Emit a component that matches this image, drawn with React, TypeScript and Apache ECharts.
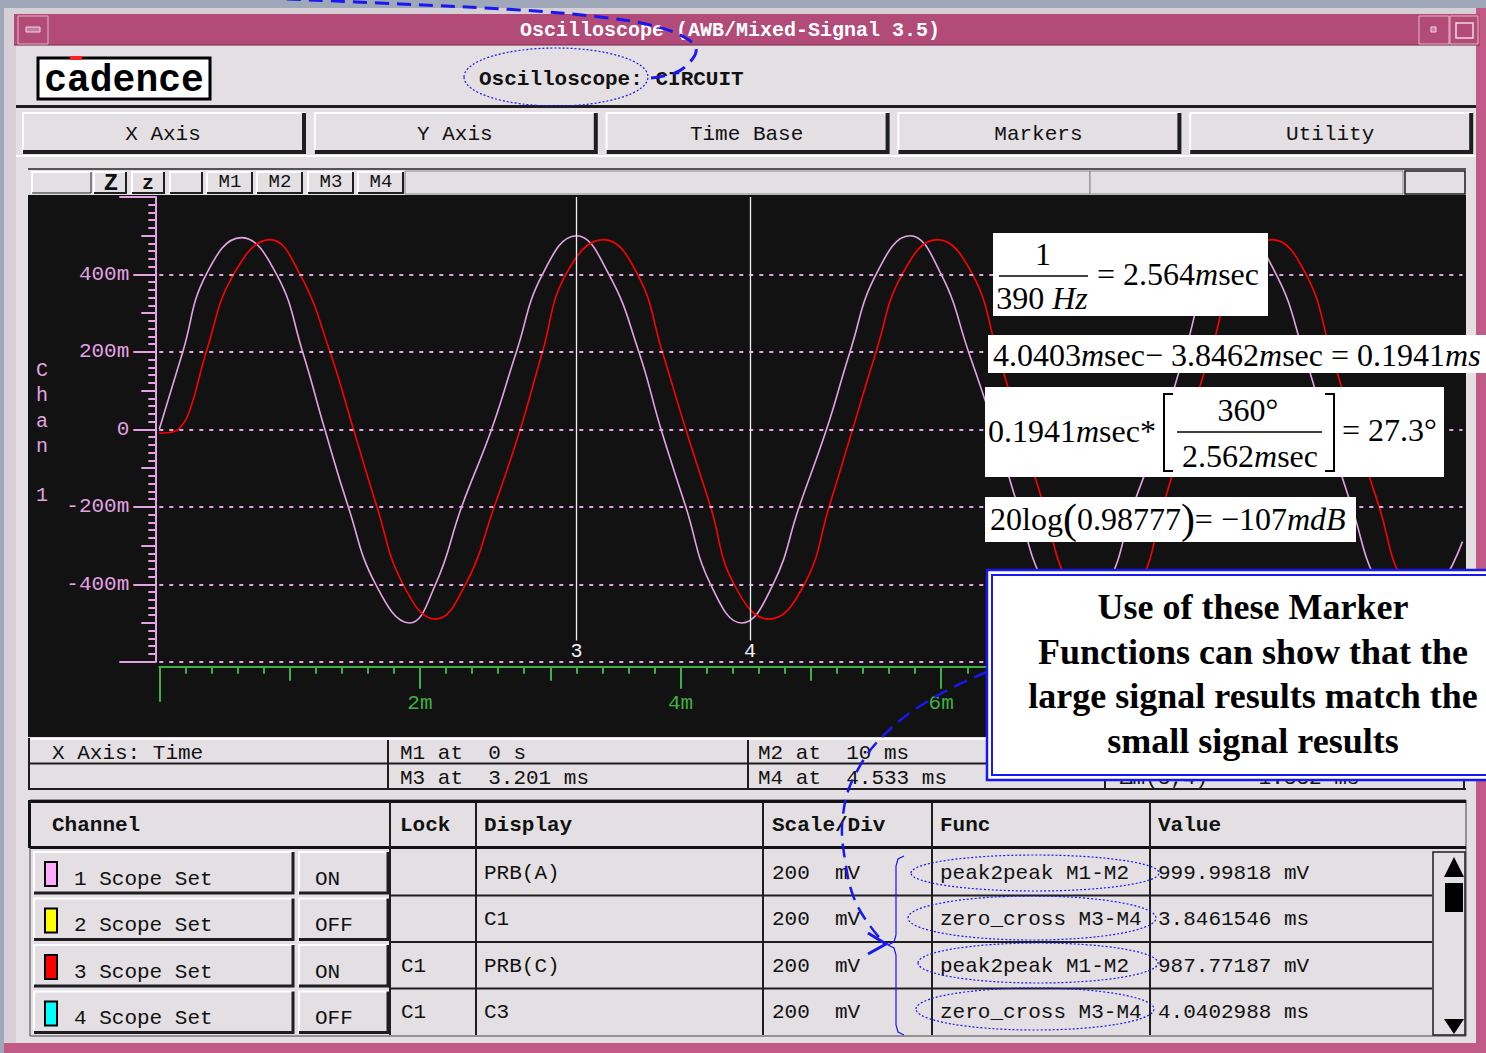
import React, { useEffect, useRef } from 'react';
import * as echarts from 'echarts';

// ---------------- data ----------------
// Channel 1 (pink, PRB(A)) : time in ms, value in mV
const ch1Time = [0, 0.18, 0.36, 0.63, 0.90, 1.10, 1.27, 1.45, 1.66, 1.92, 2.12, 2.32, 2.55, 2.74, 2.94, 3.20, 3.45, 3.68, 3.85, 4.04, 4.23, 4.47, 4.71, 4.91, 5.12, 5.30, 5.50, 5.76, 6.00, 6.21, 6.41, 6.59, 6.79, 7.04, 7.28, 7.47, 7.69, 7.87, 8.06, 8.32, 8.57, 8.78, 8.96, 9.15, 9.35, 9.60, 9.84, 10.0];
const ch1Mv = [0, 200, 400, 495, 400, 200, 0, -200, -400, -500, -400, -200, 0, 200, 400, 500, 400, 200, 0, -200, -400, -500, -400, -200, 0, 200, 400, 500, 400, 200, 0, -200, -400, -500, -400, -200, 0, 200, 400, 500, 400, 200, 0, -200, -400, -500, -400, -290];
// Channel 3 (red, PRB(C))
const ch3Time = [0, 0.08, 0.16, 0.24, 0.36, 0.57, 0.85, 1.08, 1.31, 1.49, 1.67, 1.87, 2.12, 2.35, 2.57, 2.77, 2.94, 3.12, 3.41, 3.67, 3.86, 4.04, 4.23, 4.41, 4.68, 4.95, 5.14, 5.32, 5.50, 5.70, 5.97, 6.24, 6.43, 6.61, 6.79, 6.98, 7.25, 7.52, 7.70, 7.88, 8.07, 8.26, 8.54, 8.80, 8.99, 9.17, 9.36, 9.55, 9.81, 10.0];
const ch3Mv = [-10, -8, 5, 55, 200, 400, 490, 400, 200, 0, -200, -400, -490, -400, -200, 0, 200, 400, 490, 400, 200, 0, -200, -400, -490, -400, -200, 0, 200, 400, 490, 400, 200, 0, -200, -400, -490, -400, -200, 0, 200, 400, 490, 400, 200, 0, -200, -400, -490, -440];

const markerTimes = [3.201, 4.533];
const markerNames = ['3', '4'];
const gridLevels = [-600, -400, -200, 0, 200, 400];
const visibleTimeLabels = [2, 4, 6];

const tabLabels = ['X Axis', 'Y Axis', 'Time Base', 'Markers', 'Utility'];
const markerButtons = ['M1', 'M2', 'M3', 'M4'];
const infoRow1 = ['X Axis: Time', 'M1 at  0 s', 'M2 at  10 ms'];
const infoRow2 = ['', 'M3 at  3.201 ms', 'M4 at  4.533 ms', '\u0394m(3,4) =  1.332 ms'];
const tableHeaders = ['Channel', 'Lock', 'Display', 'Scale/Div', 'Func', 'Value'];
const channelNames = ['1 Scope Set', '2 Scope Set', '3 Scope Set', '4 Scope Set'];
const channelColors = ['#ffaaff', '#ffff00', '#ff0000', '#00ffff'];
const channelStates = ['ON', 'OFF', 'ON', 'OFF'];
const lockCol = ['', '', 'C1', 'C1'];
const displayCol = ['PRB(A)', 'C1', 'PRB(C)', 'C3'];
const scaleCol = ['200  mV', '200  mV', '200  mV', '200  mV'];
const funcCol = ['peak2peak M1-M2', 'zero_cross M3-M4', 'peak2peak M1-M2', 'zero_cross M3-M4'];
const valueCol = ['999.99818 mV', '3.8461546 ms', '987.77187 mV', '4.0402988 ms'];
const calloutLines = ['Use of these Marker', 'Functions can show that the', 'large signal results match the', 'small signal results'];

// ---------------- styles ----------------
const MONO = '"Liberation Mono", "DejaVu Sans Mono", monospace';
const SERIF = '"Liberation Serif", "DejaVu Serif", serif';
const PINK = '#e4a2e4';
const GREEN = '#3fb043';
const BLUE = '#1818f0';
const GREY = '#e3dfe3';
const DARK = '#1e1e1e';

function rect(x: number, y: number, w: number, h: number, fill: string, z: number, stroke?: string, lw?: number) {
  return { type: 'rect', z, silent: true, shape: { x, y, width: w, height: h }, style: { fill, stroke: stroke || null, lineWidth: lw || 0 } };
}
function line(x1: number, y1: number, x2: number, y2: number, stroke: string, lw: number, z: number, dash?: number[]) {
  return { type: 'line', z, silent: true, shape: { x1, y1, x2, y2 }, style: { stroke, lineWidth: lw, lineDash: dash || null } };
}
function poly(points: number[][], stroke: string, lw: number, z: number, extra: any = {}) {
  return { type: 'polyline', z, silent: true, shape: { points, smooth: extra.smooth || 0 }, style: { stroke, lineWidth: lw, fill: null, lineDash: extra.dash || null } };
}
function txt(text: string, x: number, y: number, o: any = {}) {
  const align = o.align || 'left';
  const va = o.va || 'middle';
  const style: any = {
    text, fill: o.fill || '#111', font: o.font || `21px ${MONO}`,
    align, verticalAlign: va, textAlign: align, textVerticalAlign: va,
  };
  if (o.rich) style.rich = o.rich;
  const el: any = { type: 'text', x, y, z: o.z ?? -6, silent: true, style };
  if (o.scaleX) el.scaleX = o.scaleX;
  return el;
}
function bevel(x: number, y: number, w: number, h: number, z: number, thick = 3) {
  return [
    rect(x, y, w, h, GREY, z),
    poly([[x + 1, y + h], [x + 1, y + 1], [x + w, y + 1]], '#ffffff', 2, z + 1),
    poly([[x + 1, y + h - 1], [x + w - 1, y + h - 1], [x + w - 1, y + 1]], DARK, thick, z + 1),
  ];
}

function buildGraphics() {
  const g: any[] = [];
  // window background & frame
  g.push(rect(0, 0, 1486, 1053, '#9ea8b8', -10));
  g.push(rect(4, 8, 1482, 1045, '#d6d0d6', -10));
  g.push(rect(1476, 8, 10, 1045, '#c25a88', -10));
  g.push(rect(4, 1043, 1482, 10, '#c25a88', -10));
  g.push(rect(14, 14, 1466, 31, '#b24b78', -10));
  g.push(line(14, 45, 1480, 45, '#7a2a50', 1, -9));
  g.push(rect(18, 16, 30, 28, 'rgba(0,0,0,0)', -9, '#e4b8cc', 1));
  g.push(rect(26, 27, 14, 5, '#c77ba0', -9, '#f2d8e4', 1));
  g.push(rect(1419, 16, 30, 28, 'rgba(0,0,0,0)', -9, '#e4b8cc', 1));
  g.push(rect(1431, 27, 5, 5, '#c77ba0', -9, '#f2d8e4', 1));
  g.push(rect(1450, 16, 28, 28, 'rgba(0,0,0,0)', -9, '#e4b8cc', 1));
  g.push(rect(1456, 23, 17, 15, 'rgba(0,0,0,0)', -9, '#f2d8e4', 1.5));
  g.push(txt('Oscilloscope (AWB/Mixed-Signal 3.5)', 730, 30, { fill: '#ffffff', align: 'center', font: `bold 20px ${MONO}` }));

  // client area
  g.push(rect(16, 46, 1460, 997, GREY, -10));
  // cadence logo
  g.push(rect(38, 58, 172, 41, '#ffffff', -9, '#000000', 3));
  g.push(rect(70, 56, 12, 4, '#ff2020', -8));
  g.push(txt('cadence', 124, 80, { align: 'center', fill: '#000', font: `bold 38px ${MONO}` }));
  g.push(txt('Oscilloscope: CIRCUIT', 479, 79, { font: `bold 21px ${MONO}`, fill: '#111' }));
  g.push(rect(16, 105, 1460, 3, DARK, -9));

  // tabs
  tabLabels.forEach((lab, i) => {
    const x = 22 + i * 291.8;
    g.push(...bevel(x, 112, 283, 41, -9, 4));
    g.push(txt(lab, x + 141, 134, { align: 'center' }));
  });
  g.push(rect(16, 155, 1460, 2, '#ffffff', -9));

  // plot panel + toolbar
  g.push(rect(28, 168, 1438, 2, '#555555', -9));
  g.push(rect(30, 170, 1435, 25, GREY, -9));
  g.push(...bevel(31, 171, 61, 23, -9, 1));
  g.push(...bevel(93, 171, 34, 23, -9, 2));
  g.push(txt('Z', 111, 183, { align: 'center', font: `bold 24px ${MONO}` }));
  g.push(...bevel(131, 171, 34, 23, -9, 2));
  g.push(txt('z', 148, 183, { align: 'center', font: `bold 20px ${MONO}` }));
  g.push(...bevel(169, 171, 34, 23, -9, 2));
  const mbX = [206, 256, 307, 357];
  markerButtons.forEach((m, i) => {
    g.push(...bevel(mbX[i], 171, 47, 23, -9, 2));
    g.push(txt(m, mbX[i] + 24, 182, { align: 'center', font: `19px ${MONO}` }));
  });
  g.push(rect(405, 171, 685, 23, GREY, -9, '#888', 1));
  g.push(rect(1090, 171, 313, 23, GREY, -9, '#888', 1));
  g.push(rect(1405, 171, 60, 23, GREY, -9, DARK, 1.5));

  // black scope area
  g.push(rect(28, 195, 1438, 542, '#121212', -9));
  // vertical "Chan 1"
  const chanLetters = ['C', 'h', 'a', 'n'];
  chanLetters.forEach((c, i) => g.push(txt(c, 42, 370 + i * 25.5, { align: 'center', fill: PINK, font: `20px ${MONO}` })));
  g.push(txt('1', 42, 495, { align: 'center', fill: PINK, font: `20px ${MONO}` }));

  // info rows
  g.push(rect(28, 737, 1438, 53, GREY, -9));
  g.push(rect(28, 738, 1438, 2, '#ffffff', -8));
  g.push(line(28, 763.5, 1466, 763.5, DARK, 2, -8));
  g.push(line(28, 789, 1466, 789, DARK, 2, -8));
  g.push(line(29, 738, 29, 790, DARK, 2, -8));
  g.push(line(388, 740, 388, 790, DARK, 2, -8));
  g.push(line(748, 740, 748, 790, DARK, 2, -8));
  g.push(line(1105, 764, 1105, 790, DARK, 2, -8));
  g.push(line(1464, 764, 1464, 790, DARK, 2, -8));
  const infoX = [52, 400, 758, 1120];
  infoRow1.forEach((t, i) => g.push(txt(t, infoX[i], 753)));
  infoRow2.forEach((t, i) => { if (t) g.push(txt(t, infoX[i], 778)); });

  // table
  g.push(rect(30, 800, 1436, 236, GREY, -9, '#444', 1));
  g.push(rect(30, 800, 1436, 3, '#111', -8));
  g.push(rect(30, 846, 1436, 3, '#111', -8));
  g.push(rect(28, 800, 3, 48, '#111', -8));
  const colX = [390, 476, 763, 932, 1150];
  colX.forEach((x) => g.push(line(x, 802, x, 1035, DARK, 2, -8)));
  const headX = [52, 400, 484, 772, 940, 1158];
  tableHeaders.forEach((h, i) => g.push(txt(h, headX[i], 825, { font: `bold 21px ${MONO}` })));
  channelNames.forEach((name, i) => {
    const top = 851 + i * 46.5;
    g.push(...bevel(33, top, 261, 43, -9, 3));
    g.push(...bevel(298, top, 91, 43, -9, 3));
    g.push(rect(45, top + 11, 12, 24, channelColors[i], -7, '#000', 2));
    g.push(txt(name, 74, top + 28));
    g.push(txt(channelStates[i], 315, top + 28));
    if (lockCol[i]) g.push(txt(lockCol[i], 401, top + 22));
    g.push(txt(displayCol[i], 484, top + 22));
    g.push(txt(scaleCol[i], 772, top + 22));
    g.push(txt(funcCol[i], 940, top + 22));
    g.push(txt(valueCol[i], 1158, top + 22));
    if (i > 0) g.push(line(390, top - 2, 1432, top - 2, DARK, 2, -8));
  });
  // scrollbar
  g.push(rect(1433, 852, 32, 183, GREY, -8, DARK, 1.5));
  g.push({ type: 'polygon', z: -7, silent: true, shape: { points: [[1454, 857], [1444, 877], [1464, 877]] }, style: { fill: '#000' } });
  g.push(rect(1445, 883, 18, 29, '#000', -7));
  g.push({ type: 'polygon', z: -7, silent: true, shape: { points: [[1444, 1019], [1464, 1019], [1454, 1034]] }, style: { fill: '#000' } });

  // ---------- overlays: math boxes ----------
  const fs = 32;
  const rich = {
    n: { fontFamily: SERIF, fontSize: fs, fill: '#000' },
    i: { fontFamily: SERIF, fontSize: fs, fontStyle: 'italic', fill: '#000' },
    p: { fontFamily: SERIF, fontSize: 42, fill: '#000' },
  };
  const OZ = 50;
  // box 1
  g.push(rect(993, 233, 275, 83, '#ffffff', OZ));
  g.push(txt('{n|1}', 1043, 254, { align: 'center', rich, z: OZ + 1 }));
  g.push(line(999, 276, 1088, 276, '#000', 1.5, OZ + 1));
  g.push(txt('{n|390 }{i|Hz}', 1042, 298, { align: 'center', rich, z: OZ + 1 }));
  g.push(txt('{n|= 2.564}{i|m}{n|sec}', 1097, 274, { rich, z: OZ + 1 }));
  // box 2
  g.push(rect(988, 335, 498, 38, '#ffffff', OZ));
  g.push(txt('{n|4.0403}{i|m}{n|sec\u2212 3.8462}{i|m}{n|sec = 0.1941}{i|ms}', 993, 355, { rich, z: OZ + 1 }));
  // box 3
  g.push(rect(985, 387, 459, 90, '#ffffff', OZ));
  g.push(txt('{n|0.1941}{i|m}{n|sec*}', 988, 431, { rich, z: OZ + 1 }));
  g.push(poly([[1173, 394], [1164, 394], [1164, 471], [1173, 471]], '#000', 2, OZ + 1));
  g.push(txt('{n|360\u00b0}', 1248, 410, { align: 'center', rich, z: OZ + 1 }));
  g.push(line(1177, 432, 1322, 432, '#000', 1.5, OZ + 1));
  g.push(txt('{n|2.562}{i|m}{n|sec}', 1250, 456, { align: 'center', rich, z: OZ + 1 }));
  g.push(poly([[1325, 394], [1334, 394], [1334, 471], [1325, 471]], '#000', 2, OZ + 1));
  g.push(txt('{n|= 27.3\u00b0}', 1342, 430, { rich, z: OZ + 1 }));
  // box 4
  g.push(rect(985, 497, 371, 45, '#ffffff', OZ));
  g.push(txt('{n|20log}{p|(}{n|0.98777}{p|)}{n|= \u2212107}{i|mdB}', 990, 519, { rich, z: OZ + 1 }));

  // callout box
  g.push(rect(987, 570, 510, 210, '#ffffff', OZ, BLUE, 2.5));
  g.push(rect(992, 575, 500, 200, 'rgba(0,0,0,0)', OZ + 1, BLUE, 2));
  calloutLines.forEach((t, i) => g.push(txt(t, 1253, 607 + i * 44.7, { align: 'center', fill: '#000', font: `bold 36px ${SERIF}`, z: OZ + 2 })));

  // blue annotations
  g.push({ type: 'ellipse', z: OZ, silent: true, shape: { cx: 556, cy: 77, rx: 92, ry: 29 }, style: { fill: null, stroke: BLUE, lineWidth: 1.2, lineDash: [2, 2] } });
  const ellipses = [[1035, 873, 124, 18], [1032, 918, 124, 22], [1038, 963, 120, 20], [1035, 1009, 119, 21]];
  ellipses.forEach(([cx, cy, rx, ry]) => g.push({ type: 'ellipse', z: OZ, silent: true, shape: { cx, cy, rx, ry }, style: { fill: null, stroke: BLUE, lineWidth: 1.2, lineDash: [2, 2] } }));
  g.push(poly([[904, 856], [898, 859], [896, 866], [896, 935], [894, 942], [888, 945], [894, 948], [896, 955], [896, 1025], [898, 1032], [904, 1035]], BLUE, 1.2, OZ));
  g.push(poly([[265, -2], [400, 4], [520, 10], [600, 17], [650, 25], [684, 37], [696, 49], [690, 62], [675, 73], [650, 78]], BLUE, 3, OZ, { smooth: 0.4, dash: [14, 8] }));
  g.push(poly([[987, 672], [935, 697], [887, 732], [856, 773], [843, 815], [845, 860], [857, 905], [883, 942]], BLUE, 2.5, OZ, { smooth: 0.4, dash: [14, 8] }));
  g.push(poly([[868, 933], [886, 944], [868, 954]], BLUE, 3, OZ));
  return g;
}

function buildOption() {
  const yLabel = (v: number) => (v === 0 ? '0' : Math.abs(v) < 600 ? `${v}m` : '');
  const xLabel = (v: number) => (visibleTimeLabels.indexOf(v) >= 0 ? `${v}m` : '');
  const yAx = (interval: number, len: number, labels: boolean, showLine: boolean) => ({
    type: 'value', min: -600, max: 600, interval, position: 'left', offset: 4,
    axisLine: { show: showLine, onZero: false, lineStyle: { color: PINK, width: 2 } },
    axisTick: { show: true, length: len, lineStyle: { color: PINK, width: 2 } },
    axisLabel: labels ? { show: true, formatter: yLabel, color: PINK, fontFamily: MONO, fontSize: 21, margin: 26 } : { show: false },
    splitLine: { show: false },
  });
  const xAx = (interval: number, len: number, labels: boolean, showLine: boolean) => ({
    type: 'value', min: 0, max: 10, interval, position: 'bottom', offset: 5,
    axisLine: { show: showLine, onZero: false, lineStyle: { color: GREEN, width: 2 } },
    axisTick: { show: true, length: len, lineStyle: { color: GREEN, width: 2 } },
    axisLabel: labels ? { show: true, formatter: xLabel, color: GREEN, fontFamily: MONO, fontSize: 21, margin: 26 } : { show: false },
    splitLine: { show: false },
  });
  return {
    animation: false,
    backgroundColor: 'transparent',
    grid: { left: 159.3, right: 23.5, top: 197, bottom: 391.3, containLabel: false },
    xAxis: [xAx(2, 22, true, true), xAx(1, 14, false, false), xAx(0.2, 7, false, false), xAx(10, 35, false, false)],
    yAxis: [yAx(200, 22, true, true), yAx(100, 14, false, false), yAx(20, 7, false, false), yAx(1200, 36, false, false)],
    series: [
      {
        name: 'PRB(A)', type: 'line', xAxisIndex: 0, yAxisIndex: 0,
        data: ch1Time.map((t, i) => [t, ch1Mv[i]]),
        smooth: 0.45, symbol: 'none', showSymbol: false, z: 3,
        lineStyle: { color: PINK, width: 1.6 },
        markLine: {
          silent: true, symbol: ['none', 'none'], label: { show: false },
          lineStyle: { color: PINK, type: [4, 6], width: 2 },
          data: gridLevels.map((v) => ({ yAxis: v })),
        },
      },
      {
        name: 'PRB(C)', type: 'line', xAxisIndex: 0, yAxisIndex: 0,
        data: ch3Time.map((t, i) => [t, ch3Mv[i]]),
        smooth: 0.45, symbol: 'none', showSymbol: false, z: 4,
        lineStyle: { color: '#ff0000', width: 1.6 },
        markLine: {
          silent: true, symbol: ['none', 'none'],
          lineStyle: { color: '#f0f0f0', type: 'solid', width: 1.3 },
          label: { show: true, position: 'end', distance: 1, color: '#f0f0f0', fontFamily: MONO, fontSize: 20, formatter: (p: any) => p.name },
          data: markerTimes.map((t, i) => [{ coord: [t, 600], name: markerNames[i] }, { coord: [t, -545] }]),
        },
      },
    ],
    graphic: buildGraphics(),
  };
}

export default function App() {
  const ref = useRef<HTMLDivElement>(null);
  useEffect(() => {
    document.body.style.margin = '0';
    const chart = echarts.init(ref.current as HTMLDivElement, null, { renderer: 'svg', width: 1486, height: 1053 });
    chart.setOption(buildOption() as any);
    return () => chart.dispose();
  }, []);
  return <div ref={ref} style={{ width: 1486, height: 1053 }} />;
}
